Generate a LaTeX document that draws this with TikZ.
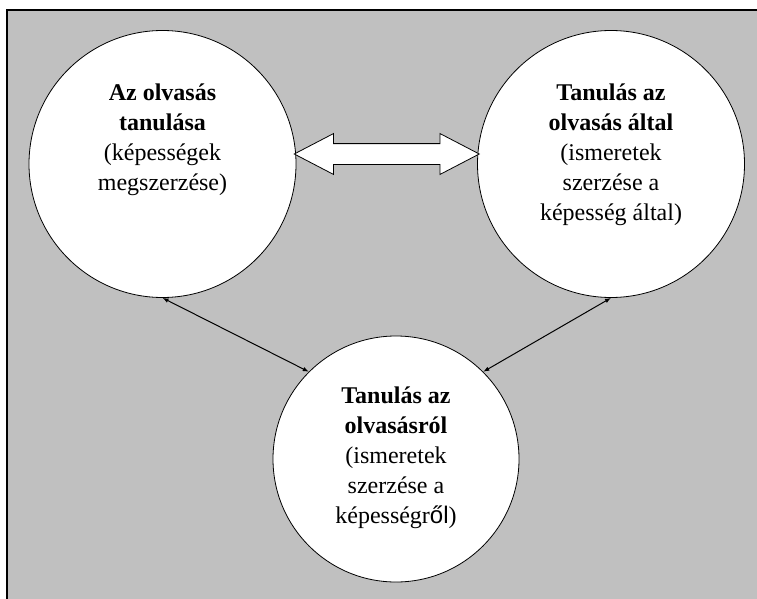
\documentclass[tikz,border=0pt]{standalone}
\usepackage{fontspec}
\setmainfont{Liberation Serif}
\newfontfamily\arialfont{Liberation Sans}
\usepackage{tikz}
\usetikzlibrary{positioning,calc,shapes.arrows,arrows.meta}
\usepackage{xcolor}
\definecolor{panelgray}{RGB}{192,192,192}
\tikzset{
	topic/.style={circle, draw, fill=white, line width=0.8pt, inner sep=0pt},
	topictext/.style={align=center, inner sep=0pt, anchor=north,
		font=\fontsize{24}{30}\selectfont},
	twoway/.style={{Latex[length=6pt,width=4.5pt]}-{Latex[length=6pt,width=4.5pt]}, line width=1pt},
	bigarrow/.style={double arrow, draw, fill=white, line width=0.8pt,
		inner xsep=0pt, inner ysep=10pt,
		minimum height=185pt, minimum width=40pt,
		double arrow head extend=10pt, double arrow tip angle=55}
}

\begin{document}
\begin{tikzpicture}[x=1pt, y=-1pt]
	\useasboundingbox (0,0) rectangle (757,599);
	\clip (0,0) rectangle (757,599);
	
	% panel, only its left and top edges are in view
	\fill[panelgray] (7,10) rectangle (760,602);
	\draw[line width=1.2pt] (7,602) -- (7,10) -- (760,10);
	
	\node[topic, minimum size=267pt] (lc) at (162.5,164) {};
	\node[topic, minimum size=267pt] (rc) at (611,164) {};
	\node[topic, minimum size=246pt] (bc) at (396,459) {};
	
	\node[topictext] (lt) at ([yshift=-54pt]lc.north) {\textbf{Az olvasás}\\ \textbf{tanulása}\\ (képességek\\ megszerzése)};
	\node[topictext] (rt) at ([yshift=-54pt]rc.north) {\textbf{Tanulás az}\\ \textbf{olvasás által}\\ (ismeretek\\ szerzése a\\ képesség által)};
	\node[topictext] (bt) at ([yshift=-51pt]bc.north) {\textbf{Tanulás az}\\ \textbf{olvasásról}\\ (ismeretek\\ szerzése a\\ képességr{\arialfont ől})};
	
	\node[bigarrow] (link) at ($(lc.center)!0.5!(rc.center)+(0,-10)$) {};
	
	\draw[twoway] (lc.south) -- (bc.135);
	\draw[twoway] (rc.south) -- (bc.45);
\end{tikzpicture}
\end{document}
